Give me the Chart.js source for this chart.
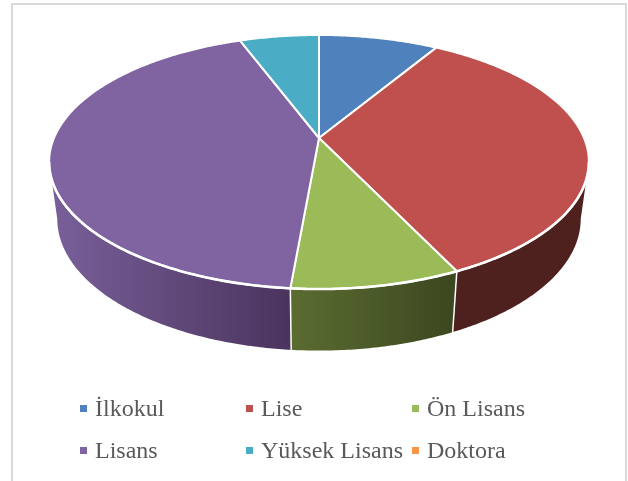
<!DOCTYPE html>
<html lang="tr">
<head>
<meta charset="utf-8">
<title>Pasta grafik</title>
<script src="https://cdn.jsdelivr.net/npm/chart.js@4"></script>
<style>
  html, body { margin: 0; padding: 0; background: #fff; overflow: hidden; width: 628px; height: 481px; }
  #frame { position: absolute; left: 11px; top: 3px; width: 612px; height: 500px; border: 2px solid #d9d9d9; }
  #grafico { position: absolute; left: 0; top: 0; }
  .legend-item { position: absolute; font: 24px "Liberation Serif", serif; color: #595959; line-height: 26px; white-space: nowrap; }
  .legend-box { position: absolute; width: 7px; height: 7px; }
</style>
</head>
<body>
<div id="frame"></div>
<canvas id="grafico" width="628" height="481"></canvas>
<div id="legenda"></div>
<script>
const categories = ["İlkokul", "Lise", "Ön Lisans", "Lisans", "Yüksek Lisans", "Doktora"];
const values = [8.6, 34.3, 8.5, 42.9, 5.7, 0];
const colors = ["#4f81bd", "#c0504d", "#9bbb59", "#8064a2", "#4bacc6", "#f79646"];

// side wall colours, left and right end of the gradient
const sideColors = [
  ["#4f81bd", "#2a4a70"],
  ["#4e201e", "#4e201e"],
  ["#5b6c31", "#3b4720"],
  ["#79609a", "#4a345d"],
  ["#4bacc6", "#2a6a7c"],
  ["#f79646", "#a05a20"]
];

// perspective of the top disc and the bottom disc
const cx = 319;
const topDisc = { a: 265, b: 122.5, k: 0.189, y0: 138 };
const bottomDisc = { a: 257, b: 127, k: 0.189, y0: 194 };

// the wall is only visible between the two silhouette points of the disc
const frontStart = Math.asin(topDisc.k);
const frontEnd = Math.PI - frontStart;

function project(disc, ang) {
  const u = Math.cos(ang);
  const v = Math.sin(ang);
  const w = 1 - disc.k * v;
  return { x: cx + disc.a * u / w, y: disc.y0 + disc.b * v / w };
}

function rimPath(ctx, disc, from, to) {
  const steps = Math.max(2, Math.ceil(Math.abs(to - from) / 0.01));
  for (let i = 0; i <= steps; i++) {
    const p = project(disc, from + (to - from) * i / steps);
    ctx.lineTo(p.x, p.y);
  }
}

const pie3d = {
  id: "pie3d",
  beforeDatasetsDraw(chart) {
    const ctx = chart.ctx;
    const arcs = chart.getDatasetMeta(0).data;
    ctx.save();
    ctx.lineJoin = "round";

    // side walls first, the top covers whatever lies behind it
    arcs.forEach((arc, i) => {
      const { startAngle, endAngle } = arc.getProps(["startAngle", "endAngle"], true);
      const from = Math.max(startAngle, frontStart);
      const to = Math.min(endAngle, frontEnd);
      if (to - from <= 0) return;
      const s = project(topDisc, from);
      const e = project(topDisc, to);
      const grad = ctx.createLinearGradient(Math.min(s.x, e.x), 0, Math.max(s.x, e.x), 0);
      grad.addColorStop(0, sideColors[i][0]);
      grad.addColorStop(1, sideColors[i][1]);
      ctx.beginPath();
      rimPath(ctx, topDisc, from, to);
      rimPath(ctx, bottomDisc, to, from);
      ctx.closePath();
      ctx.fillStyle = grad;
      ctx.fill();
    });

    // white edges between the walls
    arcs.forEach((arc) => {
      const { startAngle } = arc.getProps(["startAngle"], true);
      if (startAngle <= frontStart || startAngle >= frontEnd) return;
      const t = project(topDisc, startAngle);
      const b = project(bottomDisc, startAngle);
      ctx.beginPath();
      ctx.moveTo(t.x, t.y);
      ctx.lineTo(b.x, b.y);
      ctx.strokeStyle = "#fff";
      ctx.lineWidth = 1.5;
      ctx.stroke();
    });

    // top of the pie
    arcs.forEach((arc, i) => {
      const { startAngle, endAngle } = arc.getProps(["startAngle", "endAngle"], true);
      if (endAngle - startAngle <= 0) return;
      ctx.beginPath();
      ctx.moveTo(cx, topDisc.y0);
      rimPath(ctx, topDisc, startAngle, endAngle);
      ctx.closePath();
      ctx.fillStyle = colors[i];
      ctx.fill();
      ctx.strokeStyle = "#fff";
      ctx.lineWidth = 2;
      ctx.stroke();
    });

    // heavier white line where the top meets the wall
    ctx.beginPath();
    rimPath(ctx, topDisc, frontStart, frontEnd);
    ctx.strokeStyle = "#fff";
    ctx.lineWidth = 2.6;
    ctx.stroke();

    ctx.restore();
    return false;
  }
};

new Chart(document.getElementById("grafico"), {
  type: "pie",
  data: {
    labels: categories,
    datasets: [{ data: values, backgroundColor: colors, borderColor: "#fff", borderWidth: 2 }]
  },
  options: {
    responsive: false,
    animation: false,
    plugins: { legend: { display: false }, tooltip: { enabled: false } }
  },
  plugins: [pie3d]
});

// legend in fixed columns, the built-in one does not line up
const legendBoxX = [80, 246, 412];
const legendBoxY = [405, 447];
const legenda = document.getElementById("legenda");
categories.forEach((name, i) => {
  const col = i % 3;
  const row = Math.floor(i / 3);
  const box = document.createElement("div");
  box.className = "legend-box";
  box.style.left = legendBoxX[col] + "px";
  box.style.top = legendBoxY[row] + "px";
  box.style.background = colors[i];
  const text = document.createElement("div");
  text.className = "legend-item";
  text.style.left = (legendBoxX[col] + 15) + "px";
  text.style.top = (legendBoxY[row] - 10) + "px";
  text.textContent = name;
  legenda.appendChild(box);
  legenda.appendChild(text);
});
</script>
</body>
</html>
